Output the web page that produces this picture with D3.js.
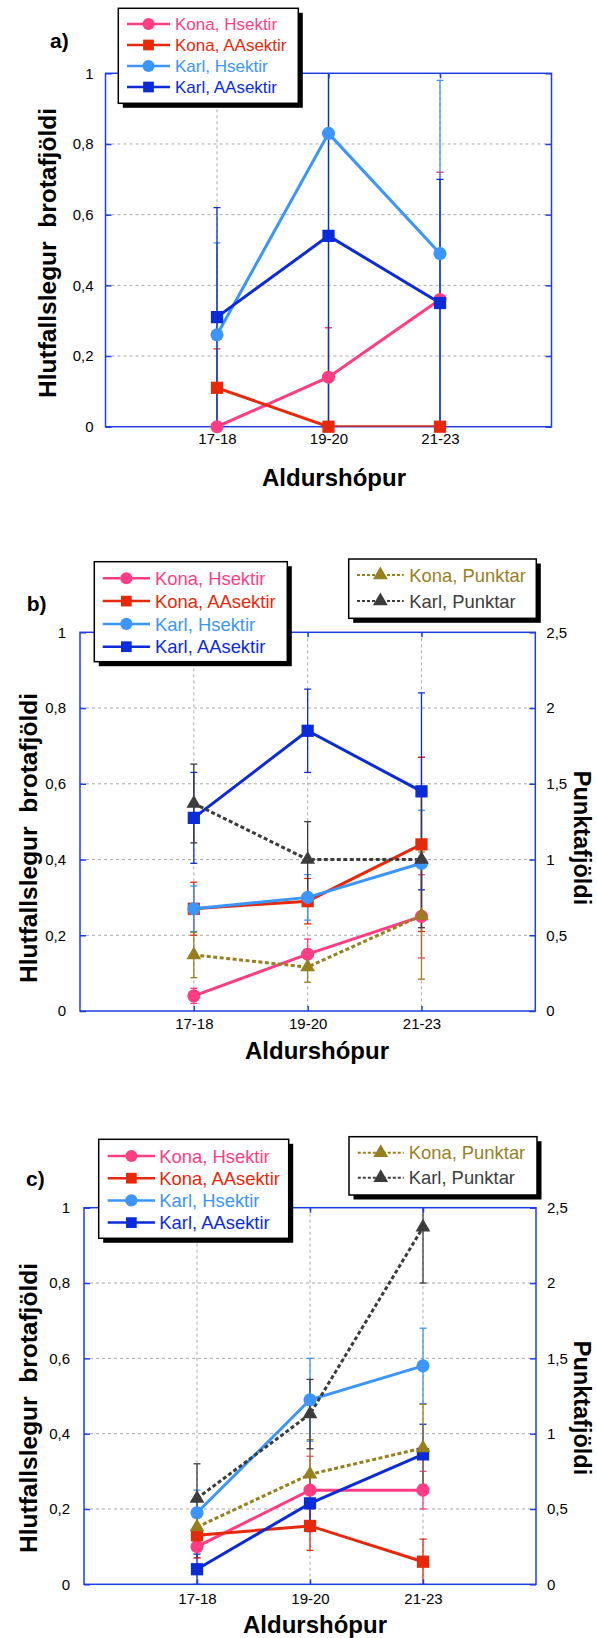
<!DOCTYPE html>
<html>
<head>
<meta charset="utf-8">
<script src="https://cdn.jsdelivr.net/npm/d3@7"></script>
<style>
  body { margin: 0; background: #fff; }
  svg { display: block; font-family: "Liberation Sans", Arial, Helvetica, sans-serif; }
</style>
</head>
<body>
<svg id="chart"></svg>
<script>
// Categories and tick values
const ageGroups = ["17-18", "19-20", "21-23"];
const seriesNames = ["Kona, Hsektir", "Kona, AAsektir", "Karl, Hsektir", "Karl, AAsektir"];
const punktNames = ["Kona, Punktar", "Karl, Punktar"];
const leftTicks = [0, 0.2, 0.4, 0.6, 0.8, 1];
const rightTicks = [0, 0.5, 1, 1.5, 2, 2.5];

// a) values and +/- error
const aKonaH = [0, 0.14, 0.36];
const aKonaHErr = [0, 0.14, 0.36];
const aKonaAA = [0.11, 0, 0];
const aKonaAAErr = [0.11, 0, 0];
const aKarlH = [0.26, 0.83, 0.49];
const aKarlHErr = [0.26, 0.83, 0.49];
const aKarlAA = [0.31, 0.54, 0.35];
const aKarlAAErr = [0.31, 0.54, 0.35];

// b)
const bKonaH = [0.04, 0.15, 0.25];
const bKonaHErr = [0.02, 0.04, 0.11];
const bKonaAA = [0.27, 0.29, 0.44];
const bKonaAAErr = [0.07, 0.06, 0.23];
const bKarlH = [0.27, 0.30, 0.39];
const bKarlHErr = [0.06, 0.06, 0.14];
const bKarlAA = [0.51, 0.74, 0.58];
const bKarlAAErr = [0.12, 0.11, 0.26];
const bKonaP = [0.37, 0.29, 0.63];   // right axis
const bKonaPErr = [0.15, 0.1, 0.42];
const bKarlP = [1.37, 1.0, 1.0];
const bKarlPErr = [0.26, 0.25, 0.45];

// c)
const cKonaH = [0.10, 0.25, 0.25];
const cKonaHErr = [0.03, 0.09, 0.05];
const cKonaAA = [0.13, 0.155, 0.06];
const cKonaAAErr = [0.06, 0.065, 0.06];
const cKarlH = [0.19, 0.49, 0.58];
const cKarlHErr = [0.06, 0.11, 0.10];
const cKarlAA = [0.04, 0.215, 0.345];
const cKarlAAErr = [0.04, 0.075, 0.08];
const cKonaP = [0.38, 0.73, 0.905];
const cKonaPErr = [0.1, 0.23, 0.29];
const cKarlP = [0.57, 1.13, 2.37];
const cKarlPErr = [0.23, 0.23, 0.37];

// styles
const width = 597, height = 1638;
const axisColor = "#1d3ee6";
const gridColor = "#a9a9a9";
const styles = {
  konaH:  { color: "#ff3d84", shape: d3.symbolCircle, size: 135 },
  konaAA: { color: "#e5290a", shape: d3.symbolSquare, size: 150 },
  karlH:  { color: "#3b95fb", shape: d3.symbolCircle, size: 135 },
  karlAA: { color: "#0b2bd8", shape: d3.symbolSquare, size: 150 },
  konaP:  { color: "#977f1f", shape: d3.symbolTriangle, size: 95, dashed: true },
  karlP:  { color: "#3c3c3c", shape: d3.symbolTriangle, size: 95, dashed: true }
};

const fmt = d => String(d).replace(".", ",");

const svg = d3.select("#chart").attr("width", width).attr("height", height);
svg.append("rect").attr("width", width).attr("height", height).attr("fill", "#fff");

function mainSeries(v, e) {
  const keys = ["konaH", "konaAA", "karlH", "karlAA"];
  return keys.map((k, i) => ({ name: seriesNames[i], values: v[i], err: e[i], axis: "left", ...styles[k] }));
}
function punktSeries(v, e) {
  const keys = ["konaP", "karlP"];
  return keys.map((k, i) => ({ name: punktNames[i], values: v[i], err: e[i], axis: "right", ...styles[k] }));
}

const panels = [
  {
    id: "a", label: "a)", labelPos: [50, 40],
    left: 105.5, right: 551.5, top: 73.3, bottom: 426.7, rightAxis: false,
    leftPad: 12, bottomPad: 7,
    series: mainSeries([aKonaH, aKonaAA, aKarlH, aKarlAA], [aKonaHErr, aKonaAAErr, aKarlHErr, aKarlAAErr]),
    legends: [{ x: 118.3, y: 8.3, w: 180, h: 95, row0: 24, step: 21, lx0: 127, lx1: 170, tx: 175, font: 17, items: "main" }],
    yTitle: [47, 253], xTitle: [334, 486]
  },
  {
    id: "b", label: "b)", labelPos: [26.7, 603],
    left: 80, right: 535.3, top: 632.3, bottom: 1011, rightAxis: true,
    leftPad: 14, bottomPad: 7,
    series: mainSeries([bKonaH, bKonaAA, bKarlH, bKarlAA], [bKonaHErr, bKonaAAErr, bKarlHErr, bKarlAAErr])
      .concat(punktSeries([bKonaP, bKarlP], [bKonaPErr, bKarlPErr])),
    legends: [
      { x: 94.3, y: 561.7, w: 193, h: 100, row0: 578.3, step: 22.8, lx0: 102.7, lx1: 150, tx: 155, font: 18.4, items: "main" },
      { x: 348.7, y: 559, w: 187.6, h: 59.3, row0: 575, step: 26, lx0: 357, lx1: 403.7, tx: 409.3, font: 18.4, items: "punkt" }
    ],
    yTitle: [28, 838], xTitle: [317, 1059], rTitle: [574, 838]
  },
  {
    id: "c", label: "c)", labelPos: [26, 1178],
    left: 84, right: 536, top: 1207.7, bottom: 1584.3, rightAxis: true,
    leftPad: 14, bottomPad: 9,
    series: mainSeries([cKonaH, cKonaAA, cKarlH, cKarlAA], [cKonaHErr, cKonaAAErr, cKarlHErr, cKarlAAErr])
      .concat(punktSeries([cKonaP, cKarlP], [cKonaPErr, cKarlPErr])),
    legends: [
      { x: 98.7, y: 1139.3, w: 190, h: 99, row0: 1156, step: 22.2, lx0: 107.7, lx1: 155, tx: 159.3, font: 18.4, items: "main" },
      { x: 349, y: 1136.7, w: 188, h: 58.3, row0: 1152.7, step: 25, lx0: 357.8, lx1: 403.7, tx: 408.7, font: 18.4, items: "punkt" }
    ],
    yTitle: [28, 1408], xTitle: [315, 1633], rTitle: [574, 1408]
  }
];

function drawPanel(p) {
  const g = svg.append("g");
  const x = d3.scalePoint().domain(ageGroups).range([p.left, p.right]).padding(1);
  const y = d3.scaleLinear().domain([0, 1]).range([p.bottom, p.top]);
  const y2 = d3.scaleLinear().domain([0, 2.5]).range([p.bottom, p.top]);

  g.append("clipPath").attr("id", "clip-" + p.id)
    .append("rect").attr("x", p.left).attr("y", p.top)
    .attr("width", p.right - p.left).attr("height", p.bottom - p.top);

  // gridlines
  g.append("g").selectAll("line").data([0.2, 0.4, 0.6, 0.8]).join("line")
    .attr("x1", p.left).attr("x2", p.right)
    .attr("y1", d => y(d)).attr("y2", d => y(d))
    .attr("stroke", gridColor).attr("stroke-dasharray", "3,3");
  g.append("g").selectAll("line").data(ageGroups).join("line")
    .attr("x1", d => x(d)).attr("x2", d => x(d))
    .attr("y1", p.top).attr("y2", p.bottom)
    .attr("stroke", gridColor).attr("stroke-dasharray", "3,3");

  // error bars
  const eg = g.append("g").attr("clip-path", `url(#clip-${p.id})`);
  p.series.forEach(s => {
    const ys = s.axis === "right" ? y2 : y;
    s.values.forEach((v, i) => {
      const e = s.err[i];
      if (!e) return;
      const cx = x(ageGroups[i]);
      eg.append("line").attr("x1", cx).attr("x2", cx)
        .attr("y1", ys(v - e)).attr("y2", ys(v + e))
        .attr("stroke", s.color).attr("stroke-width", 1.3);
      [v - e, v + e].forEach(t => {
        eg.append("line").attr("x1", cx - 3.5).attr("x2", cx + 3.5)
          .attr("y1", ys(t)).attr("y2", ys(t))
          .attr("stroke", s.color).attr("stroke-width", 1.3);
      });
    });
  });

  // axes
  const styleAxis = a => {
    a.select(".domain").remove();
    a.attr("font-size", 15).attr("font-family", null);
    a.selectAll(".tick line").attr("stroke", axisColor).attr("stroke-width", 1.5);
    a.selectAll(".tick text").attr("fill", "#000");
  };
  g.append("g").attr("transform", `translate(${p.left},0)`)
    .call(d3.axisLeft(y).tickValues(leftTicks).tickSize(-6).tickPadding(p.leftPad).tickFormat(fmt))
    .call(styleAxis);
  if (p.rightAxis) {
    g.append("g").attr("transform", `translate(${p.right},0)`)
      .call(d3.axisRight(y2).tickValues(rightTicks).tickSize(-6).tickPadding(11).tickFormat(fmt))
      .call(styleAxis);
  } else {
    g.append("g").attr("transform", `translate(${p.right},0)`)
      .call(d3.axisRight(y).tickValues(leftTicks).tickSize(-6).tickFormat(""))
      .call(styleAxis);
  }
  g.append("g").attr("transform", `translate(0,${p.bottom})`)
    .call(d3.axisBottom(x).tickSize(-5).tickPadding(p.bottomPad))
    .call(styleAxis);
  g.append("g").attr("transform", `translate(0,${p.top})`)
    .call(d3.axisTop(x).tickSize(-5).tickFormat(""))
    .call(styleAxis);

  // frame
  g.append("rect").attr("x", p.left).attr("y", p.top)
    .attr("width", p.right - p.left).attr("height", p.bottom - p.top)
    .attr("fill", "none").attr("stroke", axisColor).attr("stroke-width", 1.5);

  // lines and markers
  const sg = g.append("g").attr("clip-path", `url(#clip-${p.id})`);
  p.series.forEach(s => {
    const ys = s.axis === "right" ? y2 : y;
    const line = d3.line().x((d, i) => x(ageGroups[i])).y(d => ys(d));
    sg.append("path").attr("d", line(s.values))
      .attr("fill", "none").attr("stroke", s.color).attr("stroke-width", 3)
      .attr("stroke-dasharray", s.dashed ? "4,2.5" : null);
    g.selectAll(null).data(s.values).join("path")
      .attr("transform", (d, i) => `translate(${x(ageGroups[i])},${ys(d)})`)
      .attr("d", d3.symbol().type(s.shape).size(s.size)())
      .attr("fill", s.color);
  });

  // legends
  p.legends.forEach(L => {
    const lg = svg.append("g");
    lg.append("rect").attr("x", L.x + 4.5).attr("y", L.y + 4.5).attr("width", L.w).attr("height", L.h).attr("fill", "#000");
    lg.append("rect").attr("x", L.x).attr("y", L.y).attr("width", L.w).attr("height", L.h)
      .attr("fill", "#fff").attr("stroke", "#000").attr("stroke-width", 1.5);
    const items = p.series.filter(s => (L.items === "main") === (s.axis === "left"));
    items.forEach((s, i) => {
      const ry = L.row0 + i * L.step;
      lg.append("line").attr("x1", L.lx0).attr("x2", L.lx1).attr("y1", ry).attr("y2", ry)
        .attr("stroke", s.color).attr("stroke-width", s.dashed ? 2 : 2.5)
        .attr("stroke-dasharray", s.dashed ? "3,2" : null);
      lg.append("path").attr("transform", `translate(${(L.lx0 + L.lx1) / 2},${ry})`)
        .attr("d", d3.symbol().type(s.shape).size(s.shape === d3.symbolTriangle ? 95 : 115)())
        .attr("fill", s.color);
      lg.append("text").attr("x", L.tx).attr("y", ry).attr("dy", "0.36em")
        .attr("font-size", L.font).attr("fill", s.color).text(s.name);
    });
  });

  // titles
  svg.append("text").attr("x", p.labelPos[0]).attr("y", p.labelPos[1]).attr("dy", "0.36em")
    .attr("font-size", 21).attr("font-weight", "bold").text(p.label);
  svg.append("text")
    .attr("transform", `translate(${p.yTitle[0]},${p.yTitle[1]}) rotate(-90)`)
    .attr("text-anchor", "middle").attr("dy", "0.36em").style("white-space", "pre")
    .attr("font-size", 24.5).attr("font-weight", "bold").text("Hlutfallslegur  brotafjöldi");
  svg.append("text").attr("x", p.xTitle[0]).attr("y", p.xTitle[1])
    .attr("text-anchor", "middle")
    .attr("font-size", 24).attr("font-weight", "bold").text("Aldurshópur");
  if (p.rTitle) {
    // baseline at rTitle x, ascenders point right
    svg.append("text")
      .attr("transform", `translate(${p.rTitle[0]},${p.rTitle[1]}) rotate(90)`)
      .attr("text-anchor", "middle")
      .attr("font-size", 23.5).attr("font-weight", "bold").text("Punktafjöldi");
  }
}

panels.forEach(drawPanel);
</script>
</body>
</html>
